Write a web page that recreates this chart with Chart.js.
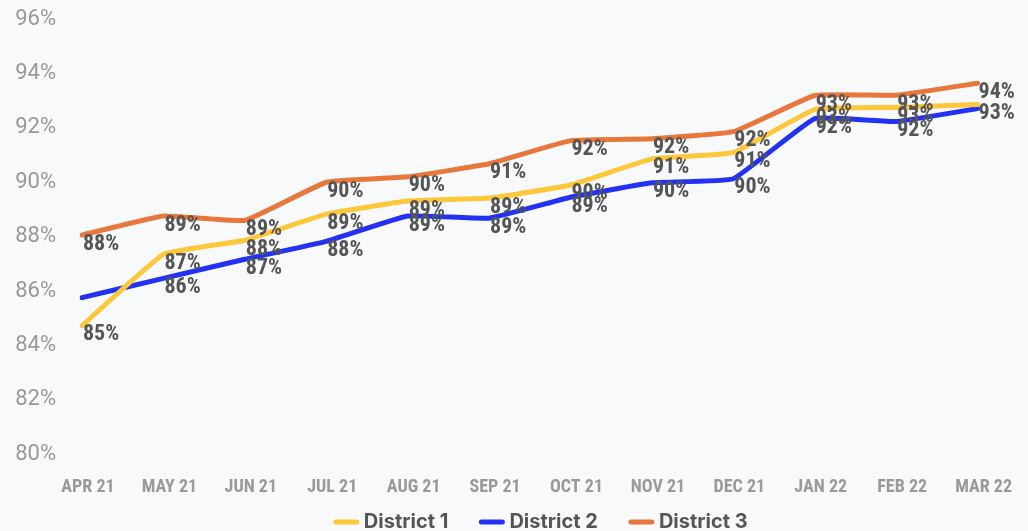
<!DOCTYPE html>
<html>
<head>
<meta charset="utf-8">
<script src="https://cdn.jsdelivr.net/npm/chart.js@4/dist/chart.umd.min.js"></script>
<style>
html,body{margin:0;padding:0;background:#f8f9fb;}
#wrap{width:1028px;height:531px;}
</style>
</head>
<body>
<div id="wrap"><canvas id="c" width="1028" height="531"></canvas></div>
<script>
const categories = ["APR 21","MAY 21","JUN 21","JUL 21","AUG 21","SEP 21","OCT 21","NOV 21","DEC 21","JAN 22","FEB 22","MAR 22"];
const district1 = [84.73, 87.35, 87.87, 88.83, 89.31, 89.42, 89.9, 90.86, 91.09, 92.68, 92.75, 92.86];
const district2 = [85.76, 86.47, 87.17, 87.83, 88.76, 88.68, 89.45, 89.98, 90.13, 92.34, 92.23, 92.71];
const district3 = [88.06, 88.76, 88.6, 90.0, 90.2, 90.68, 91.53, 91.6, 91.86, 93.19, 93.2, 93.64];
const yTicks = [80, 82, 84, 86, 88, 90, 92, 94, 96];
// labels hidden in the reference because they overlap others: [datasetIndex, pointIndex]
const hiddenLabels = [[1, 0], [1, 11]];

const NARROW = '"Liberation Sans Narrow", "Roboto Condensed", Roboto, sans-serif';

const labelPlugin = {
  id: 'pointLabels',
  afterDatasetsDraw(chart) {
    const ctx = chart.ctx;
    ctx.save();
    ctx.font = 'bold 22px ' + NARROW;
    ctx.fillStyle = '#555555';
    ctx.textAlign = 'left';
    ctx.textBaseline = 'middle';
    chart.data.datasets.forEach((ds, i) => {
      const meta = chart.getDatasetMeta(i);
      meta.data.forEach((pt, j) => {
        if (hiddenLabels.some(h => h[0] === i && h[1] === j)) return;
        ctx.fillText(Math.round(ds.data[j]) + '%', pt.x + 1, pt.y + 9);
      });
    });
    ctx.restore();
  }
};

const legendPlugin = {
  id: 'customLegend',
  afterDraw(chart) {
    const ctx = chart.ctx;
    ctx.save();
    ctx.font = 'bold 20px Inter';
    ctx.textBaseline = 'middle';
    ctx.textAlign = 'left';
    const lineW = 25, gapText = 5, gapItem = 31;
    const items = chart.data.datasets.map(ds => ({ds, w: lineW + gapText + ctx.measureText(ds.label).width}));
    const total = items.reduce((s, it) => s + it.w, 0) + gapItem * (items.length - 1);
    const cx = (chart.chartArea.left + chart.chartArea.right) / 2 + 11;
    let x = cx - total / 2;
    const y = 522;
    items.forEach(it => {
      ctx.strokeStyle = it.ds.borderColor;
      ctx.lineWidth = 5;
      ctx.lineCap = 'round';
      ctx.beginPath();
      ctx.moveTo(x + 2, y);
      ctx.lineTo(x + lineW - 2, y);
      ctx.stroke();
      ctx.fillStyle = '#555555';
      ctx.fillText(it.ds.label, x + lineW + gapText, y);
      x += it.w + gapItem;
    });
    ctx.restore();
  }
};

new Chart(document.getElementById('c'), {
  type: 'line',
  data: {
    labels: categories,
    datasets: [
      {label: 'District 1', data: district1, borderColor: '#fdc73a', backgroundColor: '#fdc73a'},
      {label: 'District 2', data: district2, borderColor: '#2231f4', backgroundColor: '#2231f4'},
      {label: 'District 3', data: district3, borderColor: '#e8773c', backgroundColor: '#e8773c'}
    ]
  },
  options: {
    responsive: false,
    animation: false,
    layout: {padding: {top: 19, left: 14, right: 43, bottom: 11}},
    elements: {
      line: {borderWidth: 5, tension: 0.1, borderCapStyle: 'round', borderJoinStyle: 'round'},
      point: {radius: 0}
    },
    scales: {
      x: {
        offset: false,
        grid: {display: false, drawTicks: false},
        border: {display: false},
        ticks: {color: '#999999', font: {family: NARROW, size: 18, weight: 'bold'}, padding: 22, labelOffset: 6, maxRotation: 0, autoSkip: false}
      },
      y: {
        min: 80, max: 96,
        afterBuildTicks(axis) { axis.ticks = yTicks.map(v => ({value: v})); },
        afterFit(axis) { axis.width = 68; axis.paddingTop = 0; axis.paddingBottom = 0; },
        grid: {display: false, drawTicks: false},
        border: {display: false},
        ticks: {color: '#999999', font: {family: 'Roboto', size: 22}, padding: 26, callback: v => v + '%'}
      }
    },
    plugins: {
      legend: {display: false},
      tooltip: {enabled: false}
    }
  },
  plugins: [labelPlugin, legendPlugin]
});
</script>
</body>
</html>
